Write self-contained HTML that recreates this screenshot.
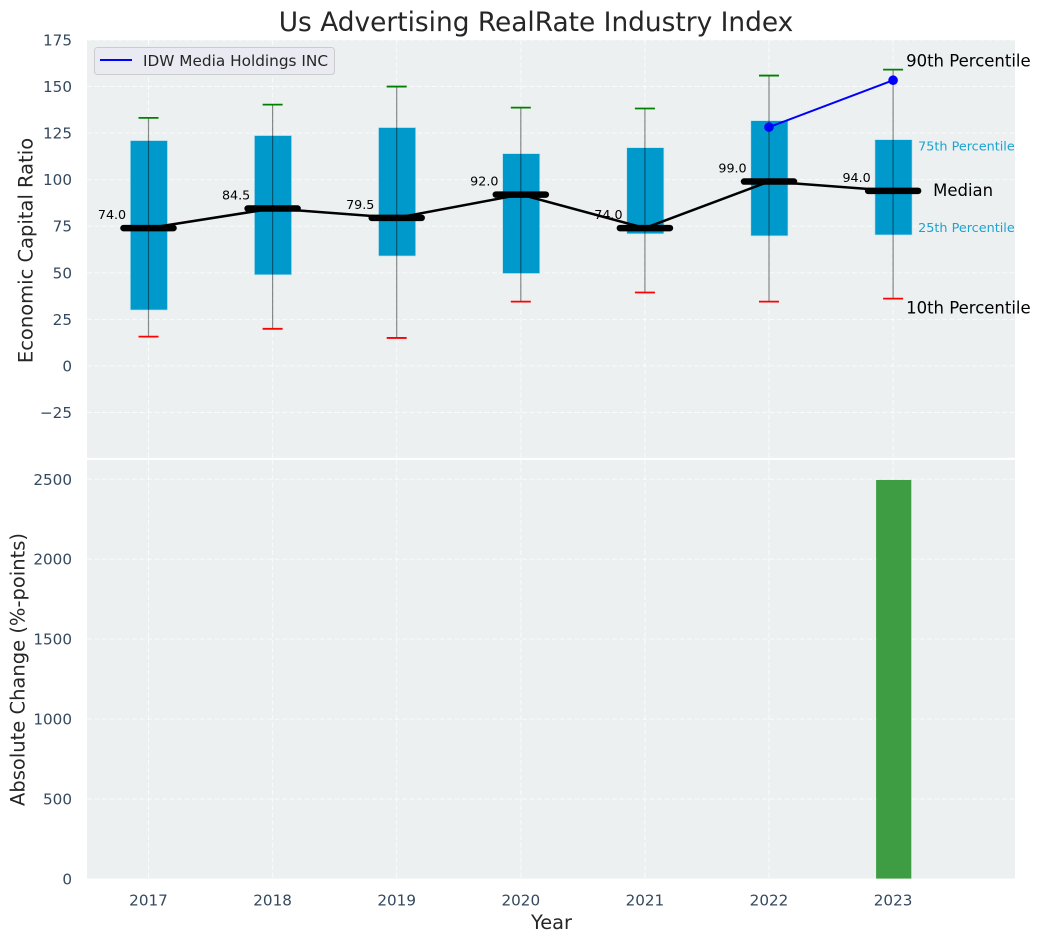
<!DOCTYPE html>
<html lang="en">
<head>
<meta charset="utf-8">
<title>Us Advertising RealRate Industry Index</title>
<style>
html,body{margin:0;padding:0;background:#fff;width:1041px;height:942px;overflow:hidden}
svg{display:block}
text{font-family:"DejaVu Sans","Liberation Sans",sans-serif}
</style>
</head>
<body>
<svg id="chart" xmlns="http://www.w3.org/2000/svg" width="1041" height="942" viewBox="0 0 1041 942"></svg>
<script>
const years = [2017, 2018, 2019, 2020, 2021, 2022, 2023];
const p10 = [15.7, 19.9, 15, 34.5, 39.4, 34.5, 36.1];
const p25 = [30, 48.9, 59, 49.6, 70.9, 69.8, 70.3];
const medians = [74, 84.5, 79.5, 92, 74, 99, 94];
const p75 = [121, 123.7, 128, 114, 117.2, 131.7, 121.5];
const p90 = [133.2, 140.3, 150, 138.7, 138.2, 155.9, 159.1];
const companyYears = [2022, 2023];
const companyValues = [128.2, 153.4];
const changeYears = [2023];
const changeValues = [2496];
const topTicks = [-25, 0, 25, 50, 75, 100, 125, 150, 175];
const bottomTicks = [0, 500, 1000, 1500, 2000, 2500];

const svg = document.getElementById('chart');
const NS = 'http://www.w3.org/2000/svg';
const L = 87, R = 1015, T1 = 40, B1 = 457.8, T2 = 460, B2 = 878.6;
function x(v) { return 148.5 + (v - 2017) * 124.1; }
function y1(v) { return 40 + (175 - v) * 1.8622; }
function y2(v) { return 879 - v * 0.15988; }
function mk(tag, attrs, parent) {
  const el = document.createElementNS(NS, tag);
  for (const k in attrs) el.setAttribute(k, attrs[k]);
  (parent || svg).appendChild(el);
  return el;
}
function group(name) {
  const g = mk('g', {});
  
  
  return g;
}

const topBg = mk('rect', {x: L, y: T1, width: R - L, height: B1 - T1, fill: '#ecf0f1'});


const botBg = mk('rect', {x: L, y: T2, width: R - L, height: B2 - T2, fill: '#ecf0f1'});



const gridG = group('grid-lines');
const gridStyle = {stroke: '#ffffff', 'stroke-width': 1, 'stroke-dasharray': '5 2.5', 'stroke-opacity': 0.72};
topTicks.forEach(function (t) {
  const l = mk('line', Object.assign({x1: L, x2: R, y1: y1(t), y2: y1(t)}, gridStyle), gridG);
  
  
});
bottomTicks.forEach(function (t) {
  const l = mk('line', Object.assign({x1: L, x2: R, y1: y2(t), y2: y2(t)}, gridStyle), gridG);
  
  
});
years.forEach(function (yr) {
  const a = mk('line', Object.assign({x1: x(yr), x2: x(yr), y1: T1, y2: B1}, gridStyle), gridG);
  
  
  const b = mk('line', Object.assign({x1: x(yr), x2: x(yr), y1: T2, y2: B2}, gridStyle), gridG);
  
  
});

const boxG = group('percentile-boxes');
years.forEach(function (yr, i) {
  const box = mk('rect', {x: x(yr) + 0.4 - 18.6, y: y1(p75[i]), width: 37.2, height: y1(p25[i]) - y1(p75[i]), fill: '#0099cc', stroke: '#bfe3ef', 'stroke-width': 0.7}, boxG);
  
  
  const whisker = mk('line', {x1: x(yr), x2: x(yr), y1: y1(p90[i]), y2: y1(p10[i]), stroke: '#000', 'stroke-opacity': 0.45, 'stroke-width': 1.2}, boxG);
  
  
  const capHi = mk('line', {x1: x(yr) - 10, x2: x(yr) + 10, y1: y1(p90[i]), y2: y1(p90[i]), stroke: '#008000', 'stroke-width': 1.8}, boxG);
  
  
  const capLo = mk('line', {x1: x(yr) - 10, x2: x(yr) + 10, y1: y1(p10[i]), y2: y1(p10[i]), stroke: '#ff0000', 'stroke-width': 1.8}, boxG);
  
  
});

const medianPts = years.map(function (yr, i) { return x(yr) + ',' + y1(medians[i]); }).join(' ');
const medianLine = mk('polyline', {points: medianPts, fill: 'none', stroke: '#000', 'stroke-width': 2.5});



const medG = group('median-markers');
years.forEach(function (yr, i) {
  const m = mk('line', {x1: x(yr) - 25, x2: x(yr) + 25, y1: y1(medians[i]), y2: y1(medians[i]), stroke: '#000', 'stroke-width': 6.5, 'stroke-linecap': 'round'}, medG);
  
  
  const t = mk('text', {x: x(yr) - 36.5, y: y1(medians[i]) - 9, 'text-anchor': 'middle', 'font-size': 12.7, fill: '#000'}, medG);
  t.textContent = medians[i].toFixed(1);
  
  
});

const companyPts = companyYears.map(function (yr, i) { return x(yr) + ',' + y1(companyValues[i]); }).join(' ');
const companyLine = mk('polyline', {points: companyPts, fill: 'none', stroke: '#0000ff', 'stroke-width': 2});


companyYears.forEach(function (yr, i) {
  const c = mk('circle', {cx: x(yr), cy: y1(companyValues[i]), r: 4.8, fill: '#0000ff'});
  
  
});

const barG = group('absolute-change-bars');
changeYears.forEach(function (yr, i) {
  const b = mk('rect', {x: x(yr) + 0.5 - 17.5, y: y2(changeValues[i]), width: 35.2, height: B2 - y2(changeValues[i]), fill: '#389a3c', 'fill-opacity': 0.97}, barG);
  
  
});

const lastIdx = years.length - 1;
const lastX = x(years[lastIdx]);
function note(txt, px, py, size, color, name) {
  const t = mk('text', {x: px, y: py, 'font-size': size, fill: color});
  t.textContent = txt;
  
  
}
note('90th Percentile', lastX + 13, y1(p90[lastIdx]) - 3, 16.5, '#000', 'annotation-90th-percentile');
note('10th Percentile', lastX + 13, y1(p10[lastIdx]) + 15, 16.5, '#000', 'annotation-10th-percentile');
note('Median', lastX + 40, y1(medians[lastIdx]) + 5, 16.5, '#000', 'annotation-median');
note('75th Percentile', lastX + 25, y1(p75[lastIdx]) + 11, 12.8, '#1ba3d1', 'annotation-75th-percentile');
note('25th Percentile', lastX + 25, y1(p25[lastIdx]) - 3, 12.8, '#1ba3d1', 'annotation-25th-percentile');

const tickFill = '#34495e';
topTicks.forEach(function (t) {
  const el = mk('text', {x: 72, y: y1(t) + 5.5, 'text-anchor': 'end', 'font-size': 15.2, fill: tickFill});
  el.textContent = String(t).replace('-', '\u2212');
  
  
});
bottomTicks.forEach(function (t) {
  const el = mk('text', {x: 72, y: y2(t) + 5.5, 'text-anchor': 'end', 'font-size': 15.2, fill: tickFill});
  el.textContent = String(t);
  
  
});
years.forEach(function (yr) {
  const el = mk('text', {x: x(yr), y: 905.5, 'text-anchor': 'middle', 'font-size': 15.2, fill: tickFill});
  el.textContent = String(yr);
  
  
});

const title = mk('text', {x: 536, y: 31, 'text-anchor': 'middle', 'font-size': 26.4, fill: '#262626'});
title.textContent = 'Us Advertising RealRate Industry Index';


const xTitle = mk('text', {x: 551.5, y: 929, 'text-anchor': 'middle', 'font-size': 19.4, fill: '#262626'});
xTitle.textContent = 'Year';


const yTitle1 = mk('text', {x: 0, y: 0, transform: 'translate(32.5,250.5) rotate(-90)', 'text-anchor': 'middle', 'font-size': 19.5, fill: '#262626'});
yTitle1.textContent = 'Economic Capital Ratio';


const yTitle2 = mk('text', {x: 0, y: 0, transform: 'translate(24.5,669.5) rotate(-90)', 'text-anchor': 'middle', 'font-size': 19.5, fill: '#262626'});
yTitle2.textContent = 'Absolute Change (%-points)';



const legend = group('legend');
const legendBox = mk('rect', {x: 94.5, y: 47.5, width: 240, height: 27, rx: 3, fill: '#eaeaf2', stroke: '#cccccc', 'stroke-width': 1}, legend);


const legendLine = mk('line', {x1: 100, x2: 132, y1: 60, y2: 60, stroke: '#0000ff', 'stroke-width': 2}, legend);


const legendText = mk('text', {x: 143, y: 66, 'font-size': 15.3, fill: '#262626'}, legend);
legendText.textContent = 'IDW Media Holdings INC';


</script>
</body>
</html>
